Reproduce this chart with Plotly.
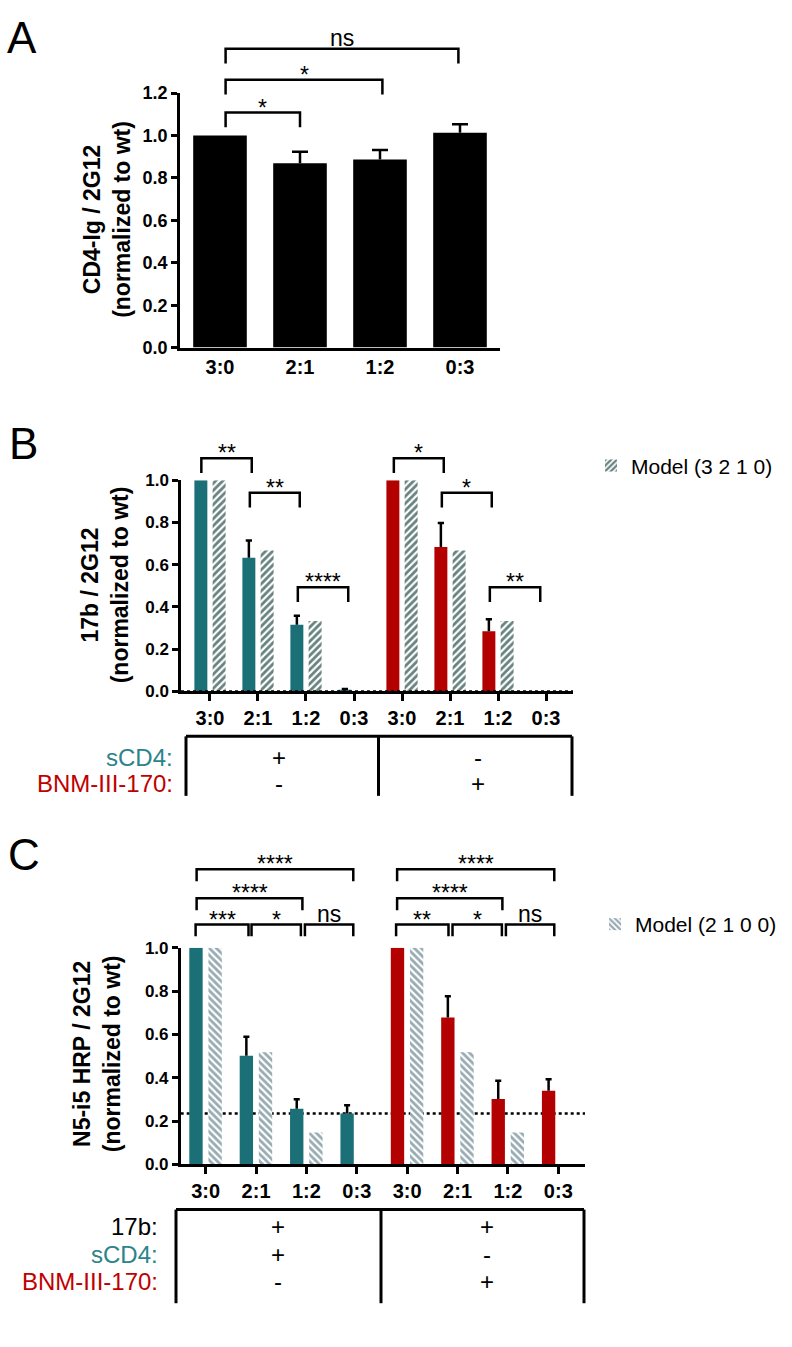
import plotly.graph_objects as go

W, H = 792, 1347

# ---------------- data ----------------
a_labels = ["3:0", "2:1", "1:2", "0:3"]
a_pos = [0, 1, 2, 3]
a_values = [1.0, 0.869, 0.887, 1.013]
a_errors = [None, 0.054, 0.045, 0.040]

ratio_labels = ["3:0", "2:1", "1:2", "0:3", "3:0", "2:1", "1:2", "0:3"]
ratio_pos = [0, 1, 2, 3, 4, 5, 6, 7]

b_scd4 = [1.0, 0.633, 0.316, 0.008]
b_scd4_err = [None, 0.082, 0.042, 0.004]
b_bnm = [1.0, 0.684, 0.285, 0.0]
b_bnm_err = [None, 0.114, 0.057, None]
b_model = [1.0, 0.667, 0.333, 0.0, 1.0, 0.667, 0.333, 0.0]

c_scd4 = [1.0, 0.501, 0.257, 0.235]
c_scd4_err = [None, 0.088, 0.043, 0.038]
c_bnm = [1.0, 0.678, 0.302, 0.340]
c_bnm_err = [None, 0.098, 0.084, 0.053]
c_model = [1.0, 0.518, 0.147, 0.0, 1.0, 0.518, 0.147, 0.0]
c_baseline = 0.235

y_ticks_a = [0.0, 0.2, 0.4, 0.6, 0.8, 1.0, 1.2]
y_ticks_bc = [0.0, 0.2, 0.4, 0.6, 0.8, 1.0]

# significance brackets: (from, to) in category units, label
a_sig = [(0.07, 1.0, "*"), (0.07, 2.03, "*"), (0.07, 2.98, "ns")]
b_sig = [(-0.18, 0.87, "**"), (0.83, 1.87, "**"), (1.83, 2.88, "****"),
         (3.83, 4.87, "*"), (4.83, 5.87, "*"), (5.83, 6.88, "**")]
c_sig = [(-0.2, 0.85, "***"), (0.91, 1.89, "*"), (1.97, 2.93, "ns"),
         (3.78, 4.82, "**"), (4.9, 5.88, "*"), (5.96, 6.92, "ns"),
         (-0.18, 1.92, "****"), (3.8, 5.89, "****"),
         (-0.18, 2.93, "****"), (3.8, 6.92, "****")]

# ---------------- layout constants (pixels) ----------------
a_sig_level = [104, 70.7, 39.3]
b_sig_level = [455, 490, 586, 455, 490, 586]
c_sig_level = [928.3] * 6 + [901.7] * 2 + [872.3] * 2

TEAL = "#1b6f77"
RED = "#b30000"
HATCH_B = "#67827f"
HATCH_C = "#98abb2"
TEAL_TXT = "#2a8489"
RED_TXT = "#c00000"
FONT = "Liberation Sans, Arial, Helvetica, sans-serif"
LW = 2.5

BW_B = 0.27     # bar width (category units) in panel B
BW_C = 0.265    # and panel C
OFF_DATA = -0.325
OFF_MODEL = 0.055


def px_x(p):
    return p / W


def px_y(p):
    return 1 - p / H


def err_trace(pos, vals, errs, offset, width, cap, xa, ya):
    """Upward-only error bars drawn as line segments through the axes."""
    xs, ys = [], []
    for p, v, e in zip(pos, vals, errs):
        if e is None:
            continue
        xc = p + offset + width / 2
        xs += [xc, xc, None, xc - cap, xc + cap, None]
        ys += [v, v + e, None, v + e, v + e, None]
    return go.Scatter(x=xs, y=ys, mode="lines", line=dict(color="black", width=LW),
                      xaxis=xa, yaxis=ya, showlegend=False, hoverinfo="skip",
                      cliponaxis=False)


fig = go.Figure()

# ---------- Panel A ----------
fig.add_trace(go.Bar(x=a_pos, y=a_values, width=0.67,
                     marker=dict(color="black", line=dict(width=0)),
                     xaxis="x", yaxis="y", showlegend=False))
fig.add_trace(err_trace(a_pos, a_values, a_errors, -0.335, 0.67, 0.1, "x", "y"))

# ---------- Panel B ----------
fig.add_trace(go.Bar(x=ratio_pos[:4], y=b_scd4, width=BW_B, offset=OFF_DATA,
                     marker=dict(color=TEAL, line=dict(width=0)),
                     xaxis="x2", yaxis="y2", showlegend=False))
fig.add_trace(go.Bar(x=ratio_pos[4:], y=b_bnm, width=BW_B, offset=OFF_DATA,
                     marker=dict(color=RED, line=dict(width=0)),
                     xaxis="x2", yaxis="y2", showlegend=False))
fig.add_trace(go.Bar(x=ratio_pos, y=b_model, width=BW_B, offset=OFF_MODEL,
                     name="Model (3 2 1 0)",
                     marker=dict(color="white", line=dict(width=0),
                                 pattern=dict(shape="/", fgcolor=HATCH_B, bgcolor="white",
                                              fgopacity=1, size=5, solidity=0.55)),
                     xaxis="x2", yaxis="y2", legend="legend"))
fig.add_trace(err_trace(ratio_pos[:4], b_scd4, b_scd4_err, OFF_DATA, BW_B, 0.065, "x2", "y2"))
fig.add_trace(err_trace(ratio_pos[4:], b_bnm, b_bnm_err, OFF_DATA, BW_B, 0.065, "x2", "y2"))

# ---------- Panel C ----------
fig.add_trace(go.Bar(x=ratio_pos[:4], y=c_scd4, width=BW_C, offset=OFF_DATA,
                     marker=dict(color=TEAL, line=dict(width=0)),
                     xaxis="x3", yaxis="y3", showlegend=False))
fig.add_trace(go.Bar(x=ratio_pos[4:], y=c_bnm, width=BW_C, offset=OFF_DATA,
                     marker=dict(color=RED, line=dict(width=0)),
                     xaxis="x3", yaxis="y3", showlegend=False))
fig.add_trace(go.Bar(x=ratio_pos, y=c_model, width=BW_C, offset=OFF_MODEL,
                     name="Model (2 1 0 0)",
                     marker=dict(color="white", line=dict(width=0),
                                 pattern=dict(shape="\\", fgcolor=HATCH_C, bgcolor="white",
                                              fgopacity=1, size=5, solidity=0.55)),
                     xaxis="x3", yaxis="y3", legend="legend2"))
fig.add_trace(err_trace(ratio_pos[:4], c_scd4, c_scd4_err, OFF_DATA, BW_C, 0.06, "x3", "y3"))
fig.add_trace(err_trace(ratio_pos[4:], c_bnm, c_bnm_err, OFF_DATA, BW_C, 0.06, "x3", "y3"))

tickfont_x = dict(family=FONT, size=20, color="black", weight="bold")
tickfont_y = dict(family=FONT, size=17, color="black", weight="bold")

common_ax = dict(showline=True, linecolor="black", linewidth=LW, showgrid=False,
                 zeroline=False, tickcolor="black", tickwidth=LW)

shapes = []
annotations = []

# dotted reference lines
shapes.append(dict(type="line", xref="x2 domain", yref="y2", x0=0, x1=1, y0=0, y1=0,
                   line=dict(color="black", width=LW, dash="dot"), layer="above"))
shapes.append(dict(type="line", xref="x3 domain", yref="y3", x0=0, x1=1,
                   y0=c_baseline, y1=c_baseline,
                   line=dict(color="black", width=LW, dash="dot"), layer="below"))


def add_brackets(sig, levels, xref, leg):
    for (x0, x1, lab), lev in zip(sig, levels):
        yb = px_y(lev)
        yl = px_y(lev + leg)
        shapes.append(dict(type="path", xref=xref, yref="paper",
                           path=f"M {x0},{yl} L {x0},{yb} L {x1},{yb} L {x1},{yl}",
                           line=dict(color="black", width=LW)))
        yc = lev - 10.5 if lab == "ns" else lev - 5
        annotations.append(dict(x=(x0 + x1) / 2, y=px_y(yc), xref=xref, yref="paper",
                                text=lab, showarrow=False, xanchor="center",
                                yanchor="middle",
                                font=dict(family=FONT, size=23, color="black")))


add_brackets(a_sig, a_sig_level, "x", 15)
add_brackets(b_sig, b_sig_level, "x2", 15)
add_brackets(c_sig, c_sig_level, "x3", 12)

# panel letters
for lab, (xx, yy) in zip(["A", "B", "C"], [(22, 28), (23, 440), (24, 857)]):
    annotations.append(dict(x=px_x(xx), y=px_y(yy), xref="paper", yref="paper",
                            text=lab, showarrow=False, xanchor="center", yanchor="middle",
                            font=dict(family=FONT, size=44, color="black")))

# y-axis titles (rotated)
for txt, (xx, yy) in zip(["CD4-Ig / 2G12<br>(normalized to wt)",
                          "17b / 2G12<br>(normalized to wt)",
                          "N5-i5 HRP / 2G12<br>(normalized to wt)"],
                         [(107, 213), (105, 584), (97, 1060)]):
    annotations.append(dict(x=px_x(xx), y=px_y(yy), xref="paper", yref="paper",
                            text=txt, textangle=-90, showarrow=False,
                            xanchor="center", yanchor="middle",
                            font=dict(family=FONT, size=23, color="black", weight="bold")))


# condition tables
def add_table(top, bottom, xs, rows, label_right, sign_x):
    shapes.append(dict(type="line", xref="paper", yref="paper",
                       x0=px_x(xs[0]), x1=px_x(xs[-1]), y0=px_y(top), y1=px_y(top),
                       line=dict(color="black", width=3)))
    for xv in xs:
        shapes.append(dict(type="line", xref="paper", yref="paper",
                           x0=px_x(xv), x1=px_x(xv), y0=px_y(top), y1=px_y(bottom),
                           line=dict(color="black", width=3)))
    for (name, color, signs, yy) in rows:
        annotations.append(dict(x=px_x(label_right), y=px_y(yy), xref="paper", yref="paper",
                                text=name, showarrow=False, xanchor="right",
                                yanchor="middle",
                                font=dict(family=FONT, size=24, color=color)))
        for s, sx in zip(signs, sign_x):
            annotations.append(dict(x=px_x(sx), y=px_y(yy), xref="paper", yref="paper",
                                    text=s, showarrow=False, xanchor="center",
                                    yanchor="middle",
                                    font=dict(family=FONT, size=24, color="black")))


add_table(737.3, 797.7, [186, 378.5, 572],
          [("sCD4:", TEAL_TXT, ["+", "-"], 758.3),
           ("BNM-III-170:", RED_TXT, ["-", "+"], 785)],
          175, [279.3, 478.3])
add_table(1217.7, 1312.7, [176, 381, 584],
          [("17b:", "black", ["+", "+"], 1235),
           ("sCD4:", TEAL_TXT, ["+", "-"], 1263.3),
           ("BNM-III-170:", RED_TXT, ["-", "+"], 1290.7)],
          160, [278.3, 486.7])

fig.update_layout(
    width=W, height=H, autosize=False,
    margin=dict(l=0, r=0, t=0, b=0),
    paper_bgcolor="white", plot_bgcolor="white",
    barmode="overlay",
    font=dict(family=FONT, color="black"),
    xaxis=dict(domain=[px_x(180), px_x(500)], range=[-0.5, 3.5], anchor="y",
               tickvals=a_pos, ticktext=a_labels, ticks="",
               tickfont=tickfont_x, **common_ax),
    yaxis=dict(domain=[px_y(342.7), px_y(84.3)], range=[0, 1.2], anchor="x",
               tickvals=y_ticks_a, tickformat=".1f", ticks="outside", ticklen=6,
               tickfont=dict(family=FONT, size=18, color="black", weight="bold"),
               **common_ax),
    xaxis2=dict(domain=[px_x(181), px_x(573)], range=[-0.604, 7.5625], anchor="y2",
                tickvals=ratio_pos, ticktext=ratio_labels, ticks="outside", ticklen=7,
                tickfont=tickfont_x, **common_ax),
    yaxis2=dict(domain=[px_y(691.7), px_y(477.3)], range=[0, 1.0], anchor="x2",
                tickvals=y_ticks_bc, tickformat=".1f", ticks="outside", ticklen=6,
                tickfont=tickfont_y, **common_ax),
    xaxis3=dict(domain=[px_x(180.7), px_x(585)], range=[-0.496, 7.53], anchor="y3",
                tickvals=ratio_pos, ticktext=ratio_labels, ticks="outside", ticklen=7,
                tickfont=tickfont_x, **common_ax),
    yaxis3=dict(domain=[px_y(1171.7), px_y(952)], range=[0, 1.0], anchor="x3",
                tickvals=y_ticks_bc, tickformat=".1f", ticks="outside", ticklen=6,
                tickfont=tickfont_y, **common_ax),
    legend=dict(x=px_x(591), y=px_y(462.7), xanchor="left", yanchor="middle",
                bgcolor="rgba(0,0,0,0)", borderwidth=0,
                font=dict(family=FONT, size=21, color="black")),
    legend2=dict(x=px_x(595), y=px_y(928.3), xanchor="left", yanchor="middle",
                 bgcolor="rgba(0,0,0,0)", borderwidth=0,
                 font=dict(family=FONT, size=21, color="black")),
    shapes=shapes,
    annotations=annotations,
)

fig.write_html("out.html", config={"displayModeBar": False},
               post_script="document.body.style.margin='0px';")
